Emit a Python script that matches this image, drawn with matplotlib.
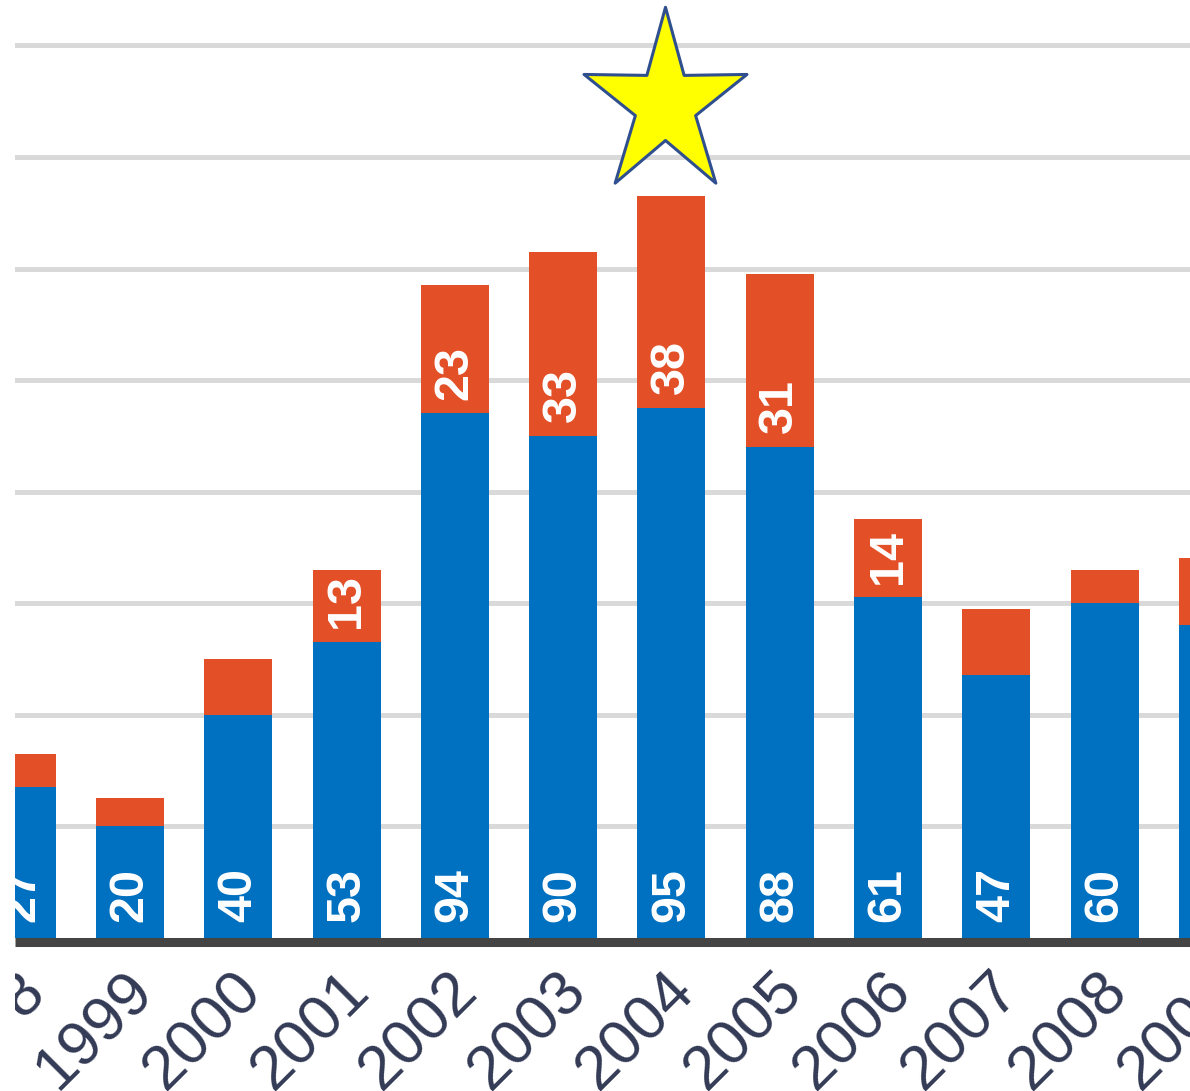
import numpy as np
import matplotlib
matplotlib.use("Agg")
import matplotlib.pyplot as plt
import matplotlib.transforms as mtransforms
from matplotlib.patches import Rectangle
from matplotlib.path import Path

# Data
years = ['1998', '1999', '2000', '2001', '2002', '2003', '2004',
         '2005', '2006', '2007', '2008', '2009']
blue_values = [27, 20, 40, 53, 94, 90, 95, 88, 61, 47, 60, 56]
red_values = [6, 5, 10, 13, 23, 33, 38, 31, 14, 12, 6, 12]
star_year = '2004'

BLUE = '#0070C0'
RED = '#E34F26'
GRID = '#D9D9D9'
AXIS = '#444444'
TICK_COLOR = '#333A55'
RED_LABEL_MIN = 13   # smaller red segments carry no label


def star_marker(sx=0.881, inner=0.37):
    """Five point star, a bit taller than wide, as a marker path"""
    verts = []
    for k in range(5):
        a_out = np.deg2rad(90 + 72 * k)
        a_in = np.deg2rad(90 + 36 + 72 * k)
        verts.append((np.cos(a_out) * sx, np.sin(a_out)))
        verts.append((inner * np.cos(a_in) * sx, inner * np.sin(a_in)))
    verts.append(verts[0])
    codes = [Path.MOVETO] + [Path.LINETO] * 9 + [Path.CLOSEPOLY]
    return Path(verts, codes)


fig = plt.figure(figsize=(11.9, 10.91), dpi=100)
# axes run past the right edge of the figure, as in the cropped original
ax = fig.add_axes([15 / 1190, 0.1370, 1300 / 1190, 0.8630])

x = np.arange(len(years))
bar_w = 0.628
ax.bar(x, blue_values, width=bar_w, color=BLUE, zorder=2)
ax.bar(x, red_values, width=bar_w, bottom=blue_values, color=RED, zorder=2)

# value labels, rotated, sitting near the base of each segment
for xi, b, r in zip(x, blue_values, red_values):
    ax.annotate(str(b), (xi, 0), xytext=(0, 11), textcoords='offset points',
                rotation=90, ha='center', va='bottom', color='white',
                fontsize=35, fontweight='bold', family='Liberation Sans',
                zorder=3, clip_on=True)
    if r >= RED_LABEL_MIN:
        ax.annotate(str(r), (xi, b), xytext=(0, 10), textcoords='offset points',
                    rotation=90, ha='center', va='bottom', color='white',
                    fontsize=35, fontweight='bold', family='Liberation Sans',
                    zorder=3, clip_on=True)

# star above the tallest stack
si = years.index(star_year)
top = blue_values[si] + red_values[si]
ax.plot(si - 0.06, top + 16.5, marker=star_marker(), markersize=140,
        markerfacecolor='#FFFF00', markeredgecolor='#2F4F8F',
        markeredgewidth=2.2, linestyle='none', zorder=4, clip_on=False)

ax.set_xlim(-0.0619, 11.942)
ax.set_ylim(-0.717, 168.16)
ax.set_yticks(np.arange(20, 161, 20))
ax.yaxis.grid(True, color=GRID, linewidth=3.6)
ax.set_axisbelow(True)
ax.tick_params(axis='y', left=False, labelleft=False)

for side in ['top', 'right', 'left']:
    ax.spines[side].set_visible(False)
ax.spines['bottom'].set_color(AXIS)
ax.spines['bottom'].set_linewidth(6.5)
ax.spines['bottom'].set_capstyle('butt')

ax.set_xticks(x)
ax.set_xticklabels(years, rotation=45, ha='right', va='top',
                   rotation_mode='anchor', fontsize=45,
                   family='Liberation Sans', color=TICK_COLOR)
ax.tick_params(axis='x', length=0, pad=14)
shift = mtransforms.ScaledTranslation(-7 / 100, 0, fig.dpi_scale_trans)
# the original picture is cut at the left edge of the plot area
clip = Rectangle((15 / 1190, 0), 2, 1, transform=fig.transFigure)
for lab in ax.get_xticklabels():
    lab.set_transform(lab.get_transform() + shift)
    lab.set_clip_path(clip)
    lab.set_clip_on(True)

fig.patch.set_facecolor('white')
fig.savefig('out.png', dpi=100, facecolor='white')
